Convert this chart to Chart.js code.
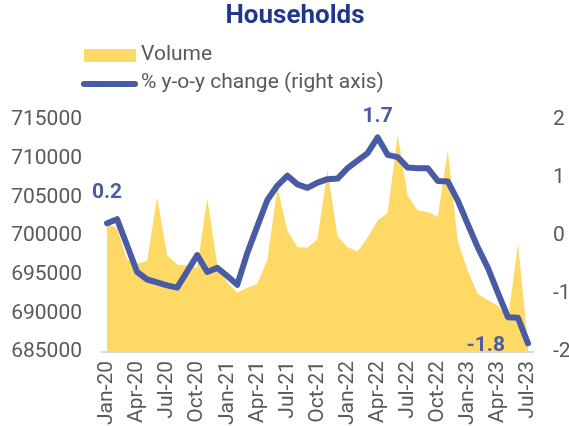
<!DOCTYPE html>
<html>
<head>
<meta charset="utf-8">
<script src="https://cdn.jsdelivr.net/npm/chart.js@4/dist/chart.umd.min.js"></script>
<style>
  html, body { margin: 0; padding: 0; background: #fff; }
  #wrap { width: 569px; height: 426px; }
</style>
</head>
<body>
<div id="wrap"><canvas id="chart" width="569" height="426"></canvas></div>
<script>
// months Jan-20 .. Jul-23
const months = [
  "Jan-20", "Feb-20", "Mar-20", "Apr-20", "May-20", "Jun-20", "Jul-20", "Aug-20", "Sep-20", "Oct-20", "Nov-20", "Dec-20",
  "Jan-21", "Feb-21", "Mar-21", "Apr-21", "May-21", "Jun-21", "Jul-21", "Aug-21", "Sep-21", "Oct-21", "Nov-21", "Dec-21",
  "Jan-22", "Feb-22", "Mar-22", "Apr-22", "May-22", "Jun-22", "Jul-22", "Aug-22", "Sep-22", "Oct-22", "Nov-22", "Dec-22",
  "Jan-23", "Feb-23", "Mar-23", "Apr-23", "May-23", "Jun-23", "Jul-23"
];

// volume (left axis)
const volume = [
  701700, 701000, 697000, 696400, 696800, 705000, 697500, 696300, 696200, 695900, 704900, 696300,
  694000, 692700, 693300, 693800, 697000, 706300, 700700, 698550, 698500, 699600, 708500, 700000,
  698550, 698000, 699800, 702000, 703000, 713100, 705250, 703300, 703100, 702500, 711100, 699300,
  695500, 692500, 691700, 691000, 689200, 699000, 686000
];

// % y-o-y change (right axis)
const yoy = [
  0.22, 0.29, -0.16, -0.62, -0.75, -0.80, -0.85, -0.89, -0.61, -0.33, -0.62, -0.55,
  -0.69, -0.84, -0.29, 0.17, 0.62, 0.87, 1.04, 0.89, 0.83, 0.92, 0.98, 0.99,
  1.17, 1.30, 1.43, 1.70, 1.40, 1.36, 1.18, 1.17, 1.17, 0.95, 0.94, 0.61,
  0.20, -0.20, -0.55, -0.98, -1.40, -1.41, -1.85
];

// labelled points on the line
const labelIdx = [0, 27, 42];
const labelText = ["0.2", "1.7", "-1.8"];

const yellow = "#FFD966";
const blue = "#4A5BA6";
const grey = "#595959";
const FONT = "Roboto, 'Liberation Sans', sans-serif";

// title, legend and data labels
const decorations = {
  id: "decorations",
  afterDatasetsDraw(chart) {
    const ctx = chart.ctx;
    ctx.save();

    // title
    ctx.fillStyle = "#22378C";
    ctx.font = `bold 26px ${FONT}`;
    ctx.textAlign = "center";
    ctx.textBaseline = "middle";
    ctx.fillText("Households", 295, 16);

    // legend
    ctx.fillStyle = yellow;
    ctx.fillRect(84, 49, 52, 13);
    ctx.strokeStyle = blue;
    ctx.lineWidth = 6;
    ctx.lineCap = "round";
    ctx.beginPath();
    ctx.moveTo(84, 84);
    ctx.lineTo(135, 84);
    ctx.stroke();
    ctx.fillStyle = grey;
    ctx.font = `21px ${FONT}`;
    ctx.textAlign = "left";
    ctx.fillText("Volume", 141, 55);
    ctx.fillText("% y-o-y change (right axis)", 141, 83);

    // data labels
    const meta = chart.getDatasetMeta(1);
    ctx.fillStyle = blue;
    ctx.font = `bold 21px ${FONT}`;
    labelIdx.forEach((idx, k) => {
      const pt = meta.data[idx];
      if (k === 0) {
        ctx.textAlign = "center";
        ctx.fillText(labelText[k], pt.x, pt.y - 30);
      } else if (k === 1) {
        ctx.textAlign = "center";
        ctx.fillText(labelText[k], pt.x, pt.y - 21);
      } else {
        ctx.textAlign = "right";
        ctx.fillText(labelText[k], pt.x - 23, pt.y + 2);
      }
    });
    ctx.restore();
  }
};

new Chart(document.getElementById("chart"), {
  type: "line",
  data: {
    labels: months,
    datasets: [
      {
        label: "Volume",
        data: volume,
        yAxisID: "y",
        fill: "start",
        backgroundColor: yellow,
        borderWidth: 0,
        pointRadius: 0,
        tension: 0,
        order: 2,
      },
      {
        label: "% y-o-y change (right axis)",
        data: yoy,
        yAxisID: "y1",
        fill: false,
        borderColor: blue,
        borderWidth: 6,
        borderJoinStyle: "round",
        borderCapStyle: "round",
        pointRadius: 0,
        tension: 0,
        order: 1,
      },
    ],
  },
  options: {
    responsive: false,
    animation: false,
    layout: { padding: { top: 120, left: 0, right: 0, bottom: 0 } },
    plugins: {
      legend: { display: false },
      title: { display: false },
      tooltip: { enabled: false },
    },
    scales: {
      x: {
        offset: true,
        grid: { display: false, drawTicks: false },
        border: { display: true, color: "#D9D9D9", width: 2 },
        ticks: {
          autoSkip: false,
          minRotation: 90,
          maxRotation: 90,
          padding: 9,
          color: grey,
          font: { family: FONT, size: 21 },
          callback: (v, i) => (i % 3 === 0 ? months[i] : ""),
        },
        afterFit: (s) => { s.height = 74; },
      },
      y: {
        position: "left",
        min: 685000,
        max: 715000,
        grid: { display: false, drawTicks: false },
        border: { display: false },
        ticks: {
          stepSize: 5000,
          padding: 20,
          color: grey,
          font: { family: FONT, size: 21 },
          callback: (v) => String(v),
        },
        afterFit: (s) => { s.width = 102; },
      },
      y1: {
        position: "right",
        min: -2,
        max: 2,
        grid: { display: false, drawTicks: false },
        border: { display: false },
        ticks: {
          stepSize: 1,
          padding: 20,
          color: grey,
          font: { family: FONT, size: 21 },
        },
        afterFit: (s) => { s.width = 36; },
      },
    },
  },
  plugins: [decorations],
});
</script>
</body>
</html>
